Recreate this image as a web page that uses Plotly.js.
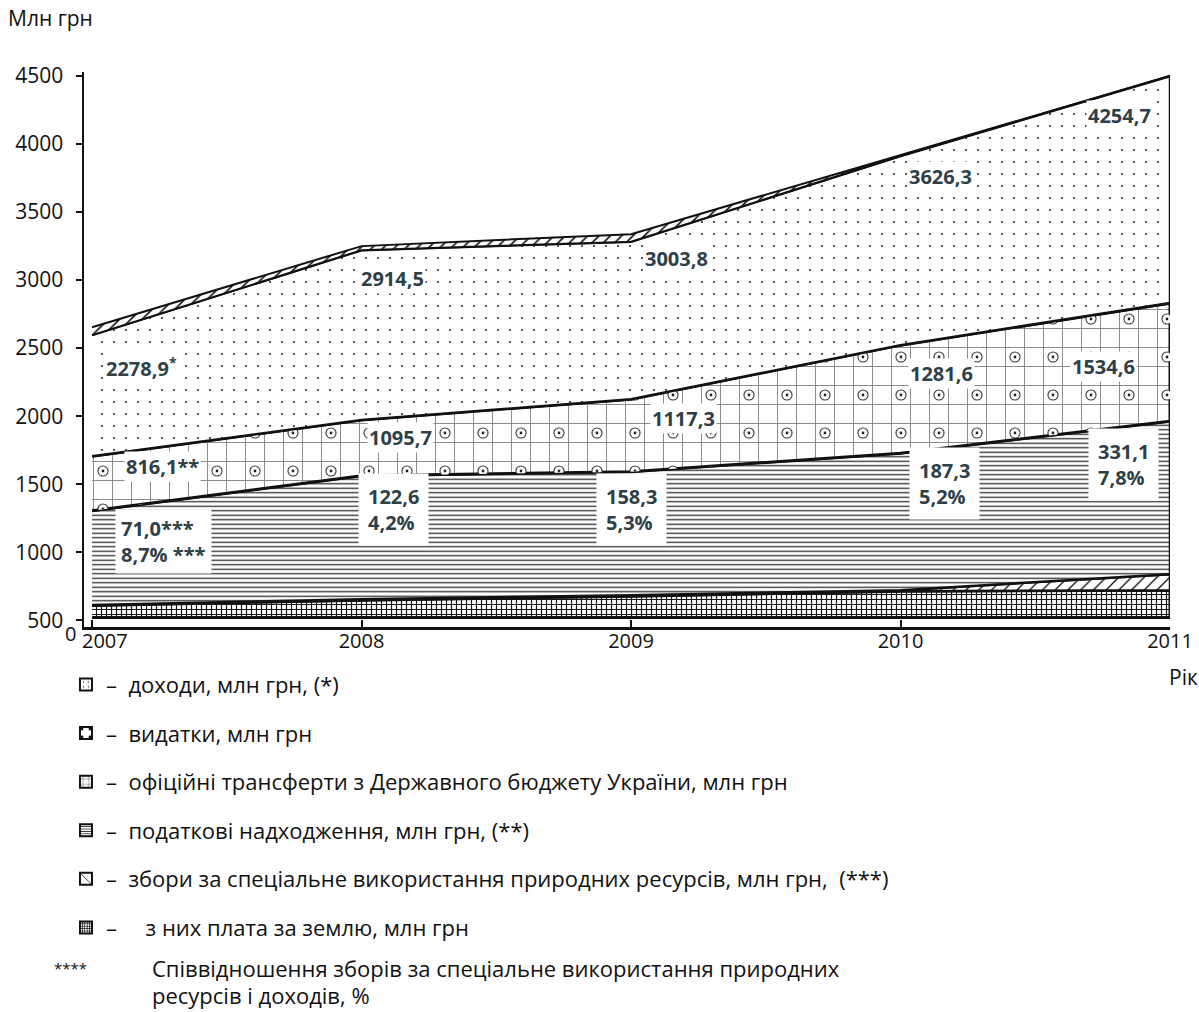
<!DOCTYPE html>
<html><head><meta charset="utf-8">
<script src="https://cdn.plot.ly/plotly-3.0.1.min.js"></script>
<style>html,body{margin:0;padding:0;background:#fff}#chart{width:1199px;height:1012px}</style>
</head><body><div id="chart"></div>
<script>
// ---- data ----
const years = [2007, 2008, 2009, 2010, 2011];
const yearLabels = ['2007', '2008', '2009', '2010', '2011'];
// boundary levels of the stacked bands, on the chart's own scale
const baseLevel = [520, 520, 520, 520, 520];
const landTop   = [608, 647, 676, 713, 721];
const feesTop   = [612, 654, 684, 721, 838];
const taxTop    = [1304, 1562, 1591, 1728, 1963];
const expTop    = [1706, 1971, 2125, 2522, 2831];
const incomeTop = [2596, 3220, 3282, 3912, 4500];
const outerTop  = [2654, 3250, 3338, 3919, 4500];
// printed values
const incomeVals = [2278.9, 2914.5, 3003.8, 3626.3, 4254.7];
const expVals    = [816.1, 1095.7, 1117.3, 1281.6, 1534.6];
const feeVals    = [71.0, 122.6, 158.3, 187.3, 331.1];
const feeShare   = [8.7, 4.2, 5.3, 5.2, 7.8];
const yTicks = [500, 1000, 1500, 2000, 2500, 3000, 3500, 4000, 4500];
const legendNames = [
  '–  доходи, млн грн, (*)',
  '–  видатки, млн грн',
  '–  офіційні трансферти з Державного бюджету України, млн грн',
  '–  податкові надходження, млн грн, (**)',
  '–  збори за спеціальне використання природних ресурсів, млн грн,  (***)',
  '–     з них плата за землю, млн грн'
];

// ---- label placement (style) ----
const incomePos = [[2007.045, 2360], [2007.99, 3015], [2009.045, 3162], [2010.024, 3765], [2010.69, 4210]];
const expPos    = [[2007.12, 1632], [2008.02, 1846], [2009.07, 1985], [2010.028, 2316], [2010.63, 2368]];
const feePos    = [[2007.085, 1081], [2007.987, 1316], [2008.87, 1316], [2010.032, 1507], [2010.696, 1647]];
const incomeSuffix = ['<sup>*</sup>', '', '', '', ''];
const expSuffix = ['**', '', '', '', ''];
const feeSuffix = ['***', '', '', '', ''];
const shareSuffix = [' ***', '', '', '', ''];

const fmt = v => v.toFixed(1).replace('.', ',');
const labelColor = '#2f3f47';
const FONT = 'Open Sans, Noto Sans, sans-serif';
const CLEAR = 'rgba(0,0,0,0)';

function band(top, bottom) {
  return {
    x: years.concat(years.slice().reverse()),
    y: top.concat(bottom.slice().reverse())
  };
}
function area(top, bottom, pattern, lineW) {
  const b = band(top, bottom);
  return {
    type: 'scatter', mode: 'lines', x: b.x, y: b.y, fill: 'toself',
    fillcolor: pattern.bgcolor === CLEAR ? CLEAR : '#ffffff',
    fillpattern: Object.assign({fillmode: 'replace'}, pattern),
    line: {color: '#111', width: lineW},
    showlegend: false, hoverinfo: 'skip'
  };
}

const traces = [
  // з них плата за землю
  area(landTop, baseLevel, {shape: '+', size: 5, solidity: 0.42, fgcolor: '#1a1a1a', bgcolor: '#ffffff'}, 3),
  // збори за спеціальне використання природних ресурсів
  area(feesTop, landTop, {shape: '/', size: 9, solidity: 0.15, fgcolor: '#111', bgcolor: '#ffffff'}, 2.5),
  // податкові надходження
  area(taxTop, feesTop, {shape: '-', size: 4.5, solidity: 0.3, fgcolor: '#333', bgcolor: '#ffffff'}, 2.5),
  // видатки / трансферти: brick grid + ringed dots
  area(expTop, taxTop, {shape: '+', size: 19, solidity: 0.1, fgcolor: '#8a8a8a', bgcolor: '#ffffff'}, 3),
  area(expTop, taxTop, {shape: '.', size: 38, solidity: 0.068, fgcolor: '#333', bgcolor: CLEAR}, 0),
  area(expTop, taxTop, {shape: '.', size: 38, solidity: 0.044, fgcolor: '#ffffff', bgcolor: CLEAR}, 0),
  area(expTop, taxTop, {shape: '.', size: 38, solidity: 0.0042, fgcolor: '#222', bgcolor: CLEAR}, 0),
  // доходи
  area(incomeTop, expTop, {shape: '.', size: 12, solidity: 0.02, fgcolor: '#111', bgcolor: '#ffffff'}, 2.5),
  // thin hatched band on top
  area(outerTop, incomeTop, {shape: '/', size: 8, solidity: 0.2, fgcolor: '#111', bgcolor: '#ffffff'}, 2)
];

// legend swatches (no data drawn)
const legendPatterns = [
  {shape: '.', size: 6, solidity: 0.06, fgcolor: '#111', bgcolor: '#fff'},
  {shape: '.', size: 12, solidity: 0.1, fgcolor: '#111', bgcolor: '#fff'},
  {shape: '+', size: 7, solidity: 0.15, fgcolor: '#444', bgcolor: '#fff'},
  {shape: '-', size: 3, solidity: 0.35, fgcolor: '#222', bgcolor: '#fff'},
  {shape: '\\', size: 12, solidity: 0.1, fgcolor: '#111', bgcolor: '#fff'},
  {shape: '+', size: 3, solidity: 0.5, fgcolor: '#111', bgcolor: '#fff'}
];
legendNames.forEach((nm, i) => {
  traces.push({
    type: 'bar', x: [null], y: [null], name: nm, legendgroup: 'g' + i,
    marker: {color: '#fff', line: {color: '#111', width: 2}, pattern: legendPatterns[i]},
    showlegend: true, hoverinfo: 'skip'
  });
});

const annotations = [];
const lblFont = {family: FONT, size: 20, color: labelColor, weight: 700};
years.forEach((yr, i) => {
  annotations.push({x: incomePos[i][0], y: incomePos[i][1], xref: 'x', yref: 'y',
    text: fmt(incomeVals[i]) + incomeSuffix[i], showarrow: false, xanchor: 'left', yanchor: 'middle',
    font: lblFont, bgcolor: '#fff', borderpad: 1});
  annotations.push({x: expPos[i][0], y: expPos[i][1], xref: 'x', yref: 'y',
    text: fmt(expVals[i]) + expSuffix[i], showarrow: false, xanchor: 'left', yanchor: 'middle',
    font: lblFont, bgcolor: '#fff', borderpad: 1});
  annotations.push({x: feePos[i][0], y: feePos[i][1], xref: 'x', yref: 'y',
    text: fmt(feeVals[i]) + feeSuffix[i] + '<br>' + fmt(feeShare[i]) + '%' + shareSuffix[i],
    showarrow: false, xanchor: 'left', yanchor: 'middle', align: 'left',
    font: lblFont, bgcolor: '#fff', borderpad: i === 0 ? 5 : 9});
});
const txtFont = {family: FONT, size: 22, color: '#111'};
annotations.push(
  {x: -0.072, y: 1.097, xref: 'paper', yref: 'paper', text: 'Млн грн', showarrow: false, xanchor: 'left', yanchor: 'middle', font: {family: FONT, size: 21, color: '#111'}},
  {x: -0.0125, y: -0.012, xref: 'paper', yref: 'paper', text: '0', showarrow: false, xanchor: 'center', yanchor: 'middle', font: {family: FONT, size: 20, color: '#111'}},
  // first year label sits just right of its tick, clear of the "0"
  {x: years[0], y: 0, xref: 'x', yref: 'paper', xshift: -12, yshift: 2, text: yearLabels[0], showarrow: false, xanchor: 'left', yanchor: 'top', font: {family: FONT, size: 20, color: '#111'}},
  {x: 1.012, y: -0.09, xref: 'paper', yref: 'paper', text: 'Рік', showarrow: false, xanchor: 'center', yanchor: 'middle', font: {family: FONT, size: 21, color: '#111'}},
  {x: -0.012, y: -0.614, xref: 'paper', yref: 'paper', text: '****', showarrow: false, xanchor: 'center', yanchor: 'middle', font: {family: FONT, size: 15, color: '#111'}},
  {x: 0.0608, y: -0.614, xref: 'paper', yref: 'paper', text: 'Співвідношення зборів за спеціальне використання природних', showarrow: false, xanchor: 'left', yanchor: 'middle', font: txtFont},
  {x: 0.0608, y: -0.663, xref: 'paper', yref: 'paper', text: 'ресурсів і доходів, %', showarrow: false, xanchor: 'left', yanchor: 'middle', font: txtFont}
);

const layout = {
  width: 1199, height: 1012,
  margin: {l: 84, r: 29, t: 72, b: 385},
  paper_bgcolor: '#fff', plot_bgcolor: '#fff',
  font: {family: FONT, color: '#111'},
  showlegend: true,
  legend: {x: -0.0166, xanchor: 'left', y: -0.066, yanchor: 'top', orientation: 'v',
    font: {family: FONT, size: 22, color: '#111'}, tracegroupgap: 17, bgcolor: 'rgba(0,0,0,0)', traceorder: 'grouped'},
  xaxis: {type: 'linear', range: [2006.97, 2011], tickmode: 'array', tickvals: years,
    ticktext: yearLabels.map((t, i) => i === 0 ? '' : t),
    showgrid: false, zeroline: false, showline: true, linecolor: '#111', linewidth: 2.5,
    ticks: 'inside', ticklen: 7, tickwidth: 2, tickcolor: '#111', ticklabelstandoff: -6,
    tickfont: {family: FONT, size: 20, color: '#111'}, fixedrange: true},
  yaxis: {type: 'linear', range: [450, 4530], tickmode: 'array', tickvals: yTicks, ticktext: yTicks.map(String),
    showgrid: false, zeroline: false, showline: true, linecolor: '#111', linewidth: 2.5,
    ticks: 'outside', ticklen: 6, tickwidth: 2, tickcolor: '#111', ticklabelstandoff: 8,
    tickfont: {family: FONT, size: 21, color: '#111'}, fixedrange: true},
  annotations: annotations,
  hovermode: false
};

Plotly.newPlot('chart', traces, layout, {staticPlot: true, displayModeBar: false});
</script>
</body></html>
